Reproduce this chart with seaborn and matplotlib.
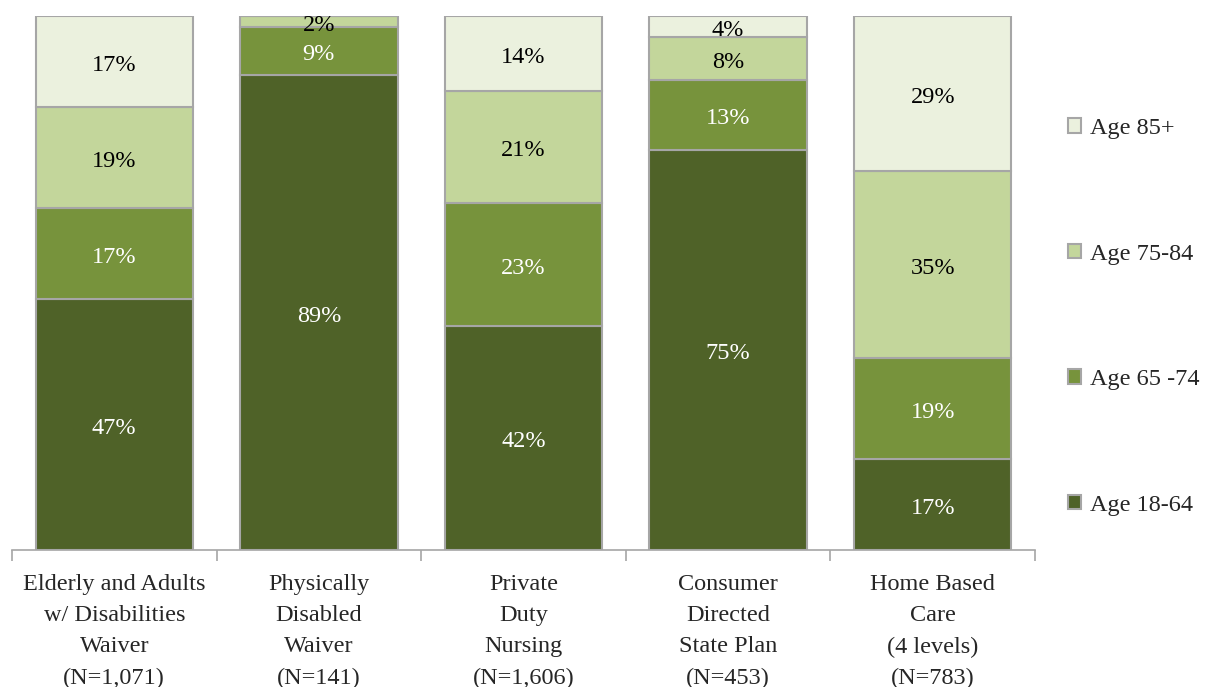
import matplotlib
matplotlib.use("Agg")
import matplotlib.pyplot as plt
import seaborn as sns
import numpy as np
from matplotlib.patches import Patch

categories = ["Elderly and Adults\nw/ Disabilities\nWaiver\n(N=1,071)",
              "Physically\nDisabled\nWaiver\n(N=141)",
              "Private\nDuty\nNursing\n(N=1,606)",
              "Consumer\nDirected\nState Plan\n(N=453)",
              "Home Based\nCare\n(4 levels)\n(N=783)"]
age_groups = ["Age 18-64", "Age 65 -74", "Age 75-84", "Age 85+"]
age_18_64 = [47, 89, 42, 75, 17]
age_65_74 = [17, 9, 23, 13, 19]
age_75_84 = [19, 2, 21, 8, 35]
age_85_plus = [17, 0, 14, 4, 29]

series = [age_18_64, age_65_74, age_75_84, age_85_plus]
colors = ["#4F6228", "#77933C", "#C3D69B", "#EBF1DE"]
text_colors = ["white", "white", "black", "black"]

sns.set_style("white")
plt.rcParams["font.family"] = ["Liberation Serif", "DejaVu Serif"]

fig = plt.figure(figsize=(12.07, 6.87), dpi=100)
ax = fig.add_axes([12 / 1207, 137 / 687, 1023 / 1207, 534 / 687])

bottom = np.zeros(len(categories))
for vals, col, tcol in zip(series, colors, text_colors):
    vals = np.array(vals, dtype=float)
    sns.barplot(x=list(range(len(categories))), y=vals, bottom=bottom, color=col,
                saturation=1, width=0.77, edgecolor="#A6A6A6", linewidth=1.5,
                ax=ax, native_scale=True)
    # value labels, nudged down a little to sit visually centred
    for i, v in enumerate(vals):
        if v > 0:
            ax.text(i, bottom[i] + v / 2 - 0.7, f"{int(v)}%", ha="center",
                    va="center", fontsize=17.5, color=tcol)
    bottom += vals

ax.set_xlim(-0.5, len(categories) - 0.5)
ax.set_ylim(0, 100)
ax.set_yticks([])
ax.set_xticks(range(len(categories)))
ax.set_xticklabels(categories, fontsize=17.5, linespacing=1.65)
ax.tick_params(axis="x", which="major", length=0, pad=17)
ax.set_xticks(np.arange(-0.5, len(categories)), minor=True)
ax.tick_params(axis="x", which="minor", bottom=True, length=8, width=1.2,
               color="#A6A6A6")
for s in ["left", "top", "right"]:
    ax.spines[s].set_visible(False)
ax.spines["bottom"].set_color("#A6A6A6")
ax.spines["bottom"].set_linewidth(1.2)
ax.set_xlabel("")
ax.set_ylabel("")

handles = [Patch(facecolor=c, edgecolor="#A6A6A6", linewidth=1.5) for c in colors]
leg = fig.legend(handles[::-1], age_groups[::-1], loc="upper left",
                 bbox_to_anchor=(1068 / 1207, 1 - 118 / 687), frameon=False,
                 fontsize=17.5, labelspacing=4.3, handlelength=0.55, handleheight=0.55,
                 handletextpad=0.35, borderaxespad=0, borderpad=0)

fig.savefig("out.png", dpi=100)
